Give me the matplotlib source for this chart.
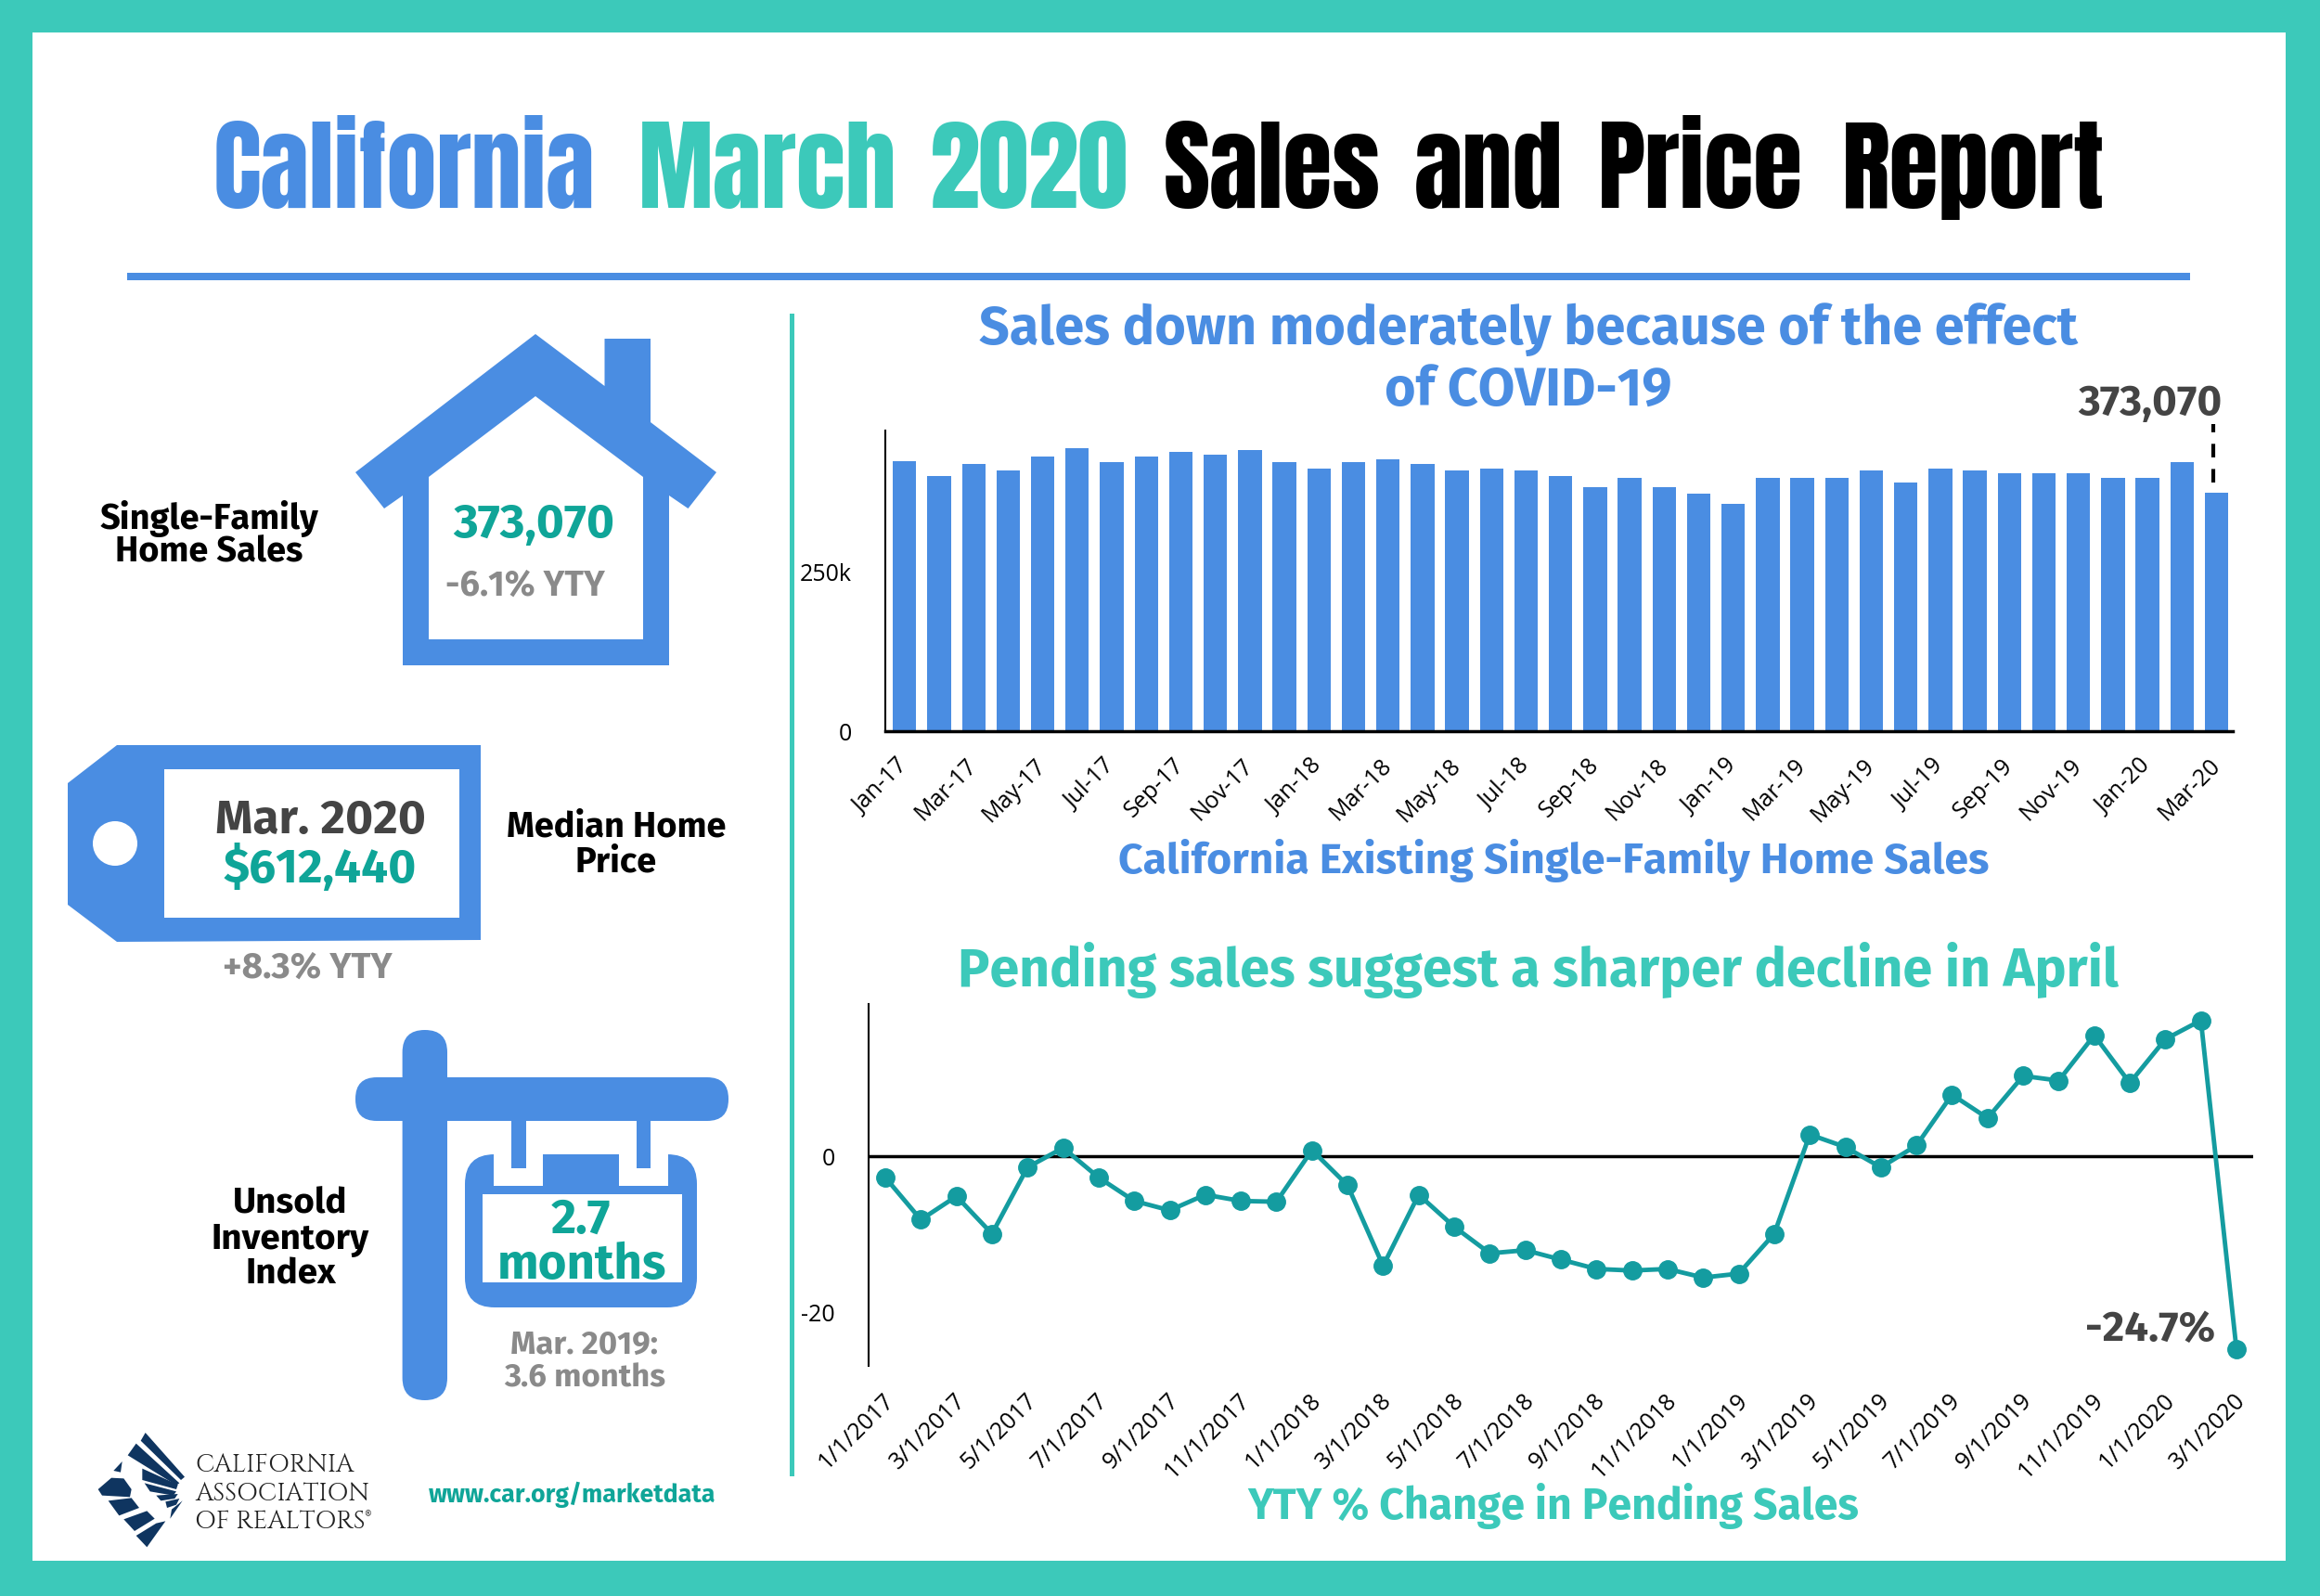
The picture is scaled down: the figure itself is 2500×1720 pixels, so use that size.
import matplotlib
matplotlib.use("Agg")
import matplotlib.pyplot as plt
from matplotlib.patches import Polygon, Rectangle, FancyBboxPatch, Ellipse
from matplotlib.transforms import ScaledTranslation

# colours
BLUE = "#4A8DE2"
TEAL = "#3CC9BA"
DARKTEAL = "#0FA598"
LINETEAL = "#149CA0"
GREY = "#8A8A8A"
DARK = "#444444"

# existing single-family home sales (thousands), Jan-17 to Mar-20
sales = [422.5, 400, 418, 408, 430, 444, 422, 430, 437, 433, 441, 422, 411,
         422, 426, 418, 408, 411, 408, 400, 382, 396.5, 382, 372, 356.5, 396.5,
         396.5, 396.5, 408, 389, 411, 408, 404, 404, 404, 396.5, 396.5, 422, 373.07]
sales_labels = ["Jan-17", "Mar-17", "May-17", "Jul-17", "Sep-17", "Nov-17",
                "Jan-18", "Mar-18", "May-18", "Jul-18", "Sep-18", "Nov-18",
                "Jan-19", "Mar-19", "May-19", "Jul-19", "Sep-19", "Nov-19",
                "Jan-20", "Mar-20"]

# YTY % change in pending sales
pending = [-2.7, -8.1, -5.1, -9.9, -1.4, 1.1, -2.7, -5.7, -6.9, -4.9, -5.7, -5.8,
           0.8, -3.7, -14.0, -4.9, -9.0, -12.4, -12.0, -13.2, -14.4, -14.6, -14.4,
           -15.5, -15.0, -9.9, 2.8, 1.2, -1.4, 1.4, 7.9, 4.9, 10.3, 9.7, 15.5, 9.4,
           15.0, 17.4, -24.7]
pending_labels = ["1/1/2017", "3/1/2017", "5/1/2017", "7/1/2017", "9/1/2017", "11/1/2017",
                  "1/1/2018", "3/1/2018", "5/1/2018", "7/1/2018", "9/1/2018", "11/1/2018",
                  "1/1/2019", "3/1/2019", "5/1/2019", "7/1/2019", "9/1/2019", "11/1/2019",
                  "1/1/2020", "3/1/2020"]

W, H = 2500, 1720
TITLE = ["Anton", "Liberation Sans", "DejaVu Sans"]
HEAD = ["Fira Sans", "Noto Sans", "DejaVu Sans"]
TICK = ["Open Sans", "Liberation Sans", "DejaVu Sans"]
LOGO = ["Cinzel", "Liberation Serif", "DejaVu Serif"]

fig = plt.figure(figsize=(W / 100, H / 100), dpi=100, facecolor=TEAL)

# everything that isn't a chart goes on this one, in pixels
bg = fig.add_axes([0, 0, 1, 1])
bg.set_xlim(0, W)
bg.set_ylim(H, 0)
bg.axis("off")


def txt(x, y, s, size, color, weight="bold", family=HEAD, ha="center"):
    bg.text(x, y, s, fontsize=size, color=color, fontweight=weight, family=family,
            ha=ha, va="center")


def rect(x0, y0, x1, y1, color):
    bg.add_patch(Rectangle((x0, y0), x1 - x0, y1 - y0, fc=color, ec="none"))


def poly(pts, color):
    bg.add_patch(Polygon(pts, closed=True, fc=color, ec="none"))


def rounded(x0, y0, x1, y1, r, color):
    bg.add_patch(FancyBboxPatch((x0 + r, y0 + r), x1 - x0 - 2 * r, y1 - y0 - 2 * r,
                                boxstyle="round,pad=%g,rounding_size=%g" % (r, r),
                                fc=color, ec="none"))


def axes_px(left, top, right, bottom):
    return fig.add_axes([left / W, 1 - bottom / H, (right - left) / W, (bottom - top) / H],
                        facecolor="none")


# frame, title, dividers
rect(35, 35, 2463, 1682, "white")
for wx, word, col in [(435, "California", BLUE), (827, "March", TEAL), (1109, "2020", TEAL),
                      (1371, "Sales", "black"), (1604, "and", "black"), (1832, "Price", "black"),
                      (2126, "Report", "black")]:
    txt(wx, 184, word, 78, col, weight="normal", family=TITLE)
rect(137, 294, 2360, 302, BLUE)
rect(851, 338, 856, 1591, TEAL)

# house
poly([(577, 360), (651.5, 416), (651.5, 365), (701, 365), (701, 455), (772, 509), (741.5, 548),
      (721, 534), (721, 717), (434, 717), (434, 534), (414, 548), (383, 509)], BLUE)
poly([(462, 514), (577, 427), (693, 514), (693, 689), (462, 689)], "white")
txt(225, 559, "Single-Family", 27.3, "black")
txt(225, 595, "Home Sales", 27.3, "black")
txt(575, 566, "373,070", 37, DARKTEAL)
txt(566, 631, "-6.1% YTY", 27.5, GREY)

# price tag
poly([(73, 844), (126, 803), (518, 803), (518, 1013), (126, 1015), (73, 975)], BLUE)
rect(177, 829, 495, 989, "white")
bg.add_patch(Ellipse((124, 909), 48, 48, fc="white", ec="none"))
txt(345, 885, "Mar. 2020", 37, DARK)
txt(345, 936, "$612,440", 37, DARKTEAL)
txt(664, 891, "Median Home", 27.4, "black")
txt(664, 929, "Price", 27.4, "black")
txt(331, 1043, "+8.3% YTY", 28, GREY)

# for sale sign
rounded(433.6, 1110, 482, 1509, 24, BLUE)
rounded(383, 1161, 785, 1208, 23, BLUE)
rounded(501, 1244, 751, 1409, 32, BLUE)
rect(532, 1240, 585, 1278, "white")
rect(667, 1240, 720, 1278, "white")
rect(551, 1208, 567, 1259, BLUE)
rect(686, 1208, 701, 1259, BLUE)
rect(520, 1287, 735, 1382, "white")
txt(626, 1315, "2.7", 38, DARKTEAL)
txt(627, 1364, "months", 38, DARKTEAL)
txt(313, 1297, "Unsold", 27.8, "black")
txt(313, 1336, "Inventory", 27.8, "black")
txt(313, 1373, "Index", 27.8, "black")
txt(630, 1450, "Mar. 2019:", 25, GREY)
txt(630, 1485, "3.6 months", 25, GREY)

# logo
for shape in [[(200, 42), (327, 185), (315, 195), (185, 68)],
              [(170, 77), (310, 205), (300, 212), (143, 115)],
              [(190, 158), (305, 210), (300, 225), (190, 195)],
              [(197, 205), (300, 232), (290, 245), (215, 232)],
              [(235, 245), (305, 240), (295, 255), (250, 262)],
              [(265, 265), (310, 255), (300, 275), (270, 285)],
              [(285, 290), (320, 262), (280, 320)],
              [(90, 188), (130, 190), (155, 225), (150, 250), (60, 245), (47, 225)],
              [(125, 135), (120, 170), (97, 165)],
              [(80, 262), (155, 253), (180, 285), (115, 310)],
              [(130, 322), (205, 295), (230, 320), (165, 360)],
              [(170, 375), (235, 335), (265, 328), (205, 412)]]:
    poly([(90 + x / 3, 1530 + y / 3) for x, y in shape], "#0F3560")
txt(210, 1576, "CALIFORNIA", 19.5, "#222222", weight="normal", family=LOGO, ha="left")
txt(210, 1607, "ASSOCIATION", 19.5, "#222222", weight="normal", family=LOGO, ha="left")
txt(210, 1637, "OF REALTORS\u00ae", 19.5, "#222222", weight="normal", family=LOGO, ha="left")
txt(617, 1611, "www.car.org/marketdata", 19.2, DARKTEAL)

# chart headings
txt(1647, 355, "Sales down moderately because of the effect", 41.4, BLUE)
txt(1647, 422, "of COVID-19", 41.4, BLUE)
txt(1674, 928, "California Existing Single-Family Home Sales", 33.3, BLUE)
txt(1658, 1045, "Pending sales suggest a sharper decline in April", 41.3, TEAL)
txt(1674, 1623, "YTY % Change in Pending Sales", 33.4, TEAL)

# bar chart
ax = axes_px(954, 464, 2406, 788)
ax.bar(range(len(sales)), sales, width=0.68, color=BLUE)
ax.set_xlim(-0.56, 38.47)
ax.set_ylim(0, 471)
ax.set_yticks([0, 250])
ax.set_yticklabels(["0", "250k"], fontsize=18, family=TICK)
ax.set_xticks(list(range(0, 38, 2)) + [38])
ax.set_xticklabels(sales_labels, fontsize=18, family=TICK, rotation=45, ha="right",
                   va="center", rotation_mode="anchor")
ax.tick_params(axis="x", length=0, pad=24)
ax.tick_params(axis="y", length=0, pad=26)
for side in ["top", "right"]:
    ax.spines[side].set_visible(False)
ax.spines["left"].set_linewidth(1.5)
ax.spines["bottom"].set_linewidth(2.5)
ax.plot([37.9, 37.9], [390, 481], color="black", lw=3, ls=(0, (3.5, 3)), clip_on=False)
txt(2317, 435, "373,070", 33, DARK)

# line chart
ax2 = axes_px(936, 1082, 2428, 1472)
x = list(range(len(pending)))
ax2.plot(x, pending, color=LINETEAL, lw=3.5, marker="o", ms=14, clip_on=False, zorder=3)
ax2.axhline(0, color="black", lw=2.5, zorder=2)
ax2.set_xlim(-0.47, 38.47)
ax2.set_ylim(-26.8, 19.5)
ax2.set_yticks([-20, 0])
ax2.set_yticklabels(["-20", "0"], fontsize=18, family=TICK)
ax2.set_xticks(list(range(0, 38, 2)) + [38])
ax2.set_xticklabels(pending_labels, fontsize=18, family=TICK, rotation=45, ha="right",
                    va="center", rotation_mode="anchor")
ax2.tick_params(axis="x", length=0, pad=24)
ax2.tick_params(axis="y", length=0, pad=26)
nudge = ScaledTranslation(6 / 100, 0, fig.dpi_scale_trans)
for lab in ax2.get_xticklabels():
    lab.set_transform(lab.get_transform() + nudge)
for side in ["top", "right", "bottom"]:
    ax2.spines[side].set_visible(False)
ax2.spines["left"].set_linewidth(1.5)
txt(2317, 1433, "-24.7%", 33, DARK)

fig.savefig("out.png", dpi=100, facecolor=fig.get_facecolor())
